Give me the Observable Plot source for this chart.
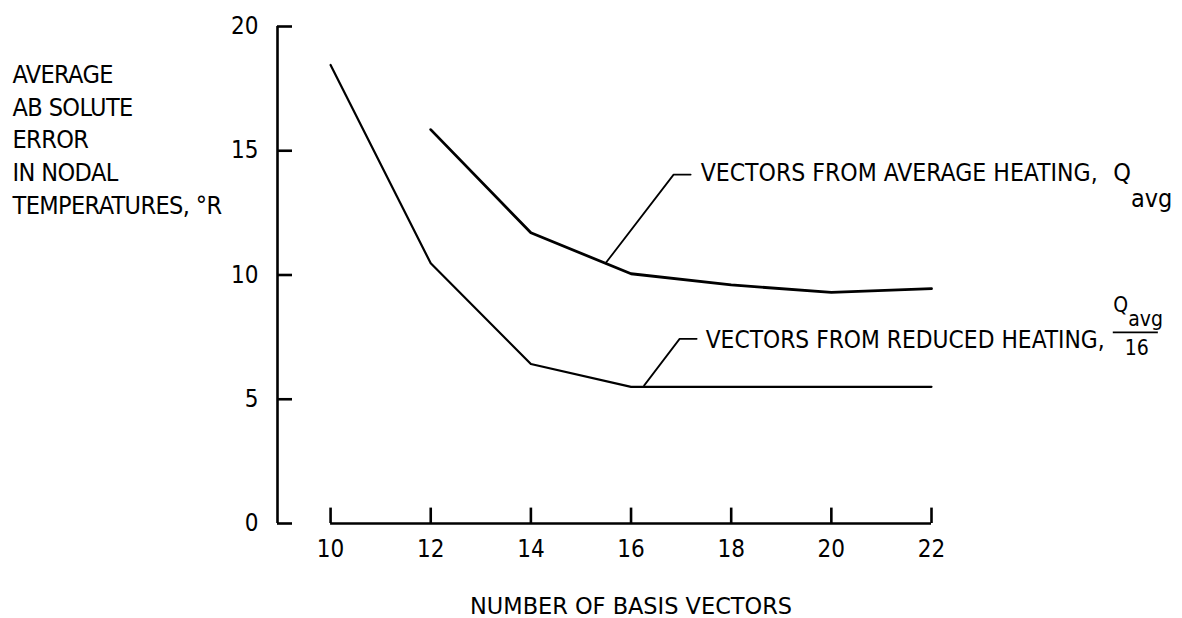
<!DOCTYPE html>
<html><head><meta charset="utf-8">
<script src="https://cdn.jsdelivr.net/npm/d3@7"></script>
<script src="https://cdn.jsdelivr.net/npm/@observablehq/plot@0.6"></script>
<style>
body{margin:0;background:#fff;}
#chart svg{font-family:"Liberation Sans Narrow","DejaVu Sans Condensed","Liberation Sans",sans-serif;}
</style></head><body><div id="chart"></div>
<script>
// ---- data ----
const basisVectors = [10, 12, 14, 16, 18, 20, 22];
const reducedHeatingError = [18.45, 10.47, 6.42, 5.5, 5.5, 5.5, 5.5];
const avgBasisVectors = [12, 14, 16, 18, 20, 22];
const averageHeatingError = [15.85, 11.7, 10.05, 9.6, 9.3, 9.45];
const xTicks = [10, 12, 14, 16, 18, 20, 22];
const yTicks = [0, 5, 10, 15, 20];
const yLabelLines = ["AVERAGE", "AB SOLUTE", "ERROR", "IN NODAL", "TEMPERATURES, °R"];
const xLabel = "NUMBER OF BASIS VECTORS";
const upperLabel = "VECTORS FROM AVERAGE HEATING,";
const lowerLabel = "VECTORS FROM REDUCED HEATING,";
// annotation leader lines & label anchors (data coordinates)
const upperLeaderX = [15.49, 16.85, 17.19];
const upperLeaderY = [10.47, 14.04, 14.04];
const lowerLeaderX = [16.26, 16.97, 17.31];
const lowerLeaderY = [5.55, 7.43, 7.43];
const upperLabelPos = [17.39, 14.1];
const upperQPos = [25.63, 14.1];
const lowerLabelPos = [17.49, 7.4];
const fracNumPos = [25.63, 8.8];
const fracDenPos = [26.1, 7.05];
const fracBarX = [25.63, 26.53];
const fracBarY = 7.69;

const xMin = 8.94;
const lowerData = basisVectors.map((x, i) => ({x, y: reducedHeatingError[i]}));
const upperData = avgBasisVectors.map((x, i) => ({x, y: averageHeatingError[i]}));
const upperLeader = upperLeaderX.map((x, i) => ({x, y: upperLeaderY[i]}));
const lowerLeader = lowerLeaderX.map((x, i) => ({x, y: lowerLeaderY[i]}));
const titleX = (xTicks[0] + xTicks[xTicks.length - 1]) / 2;

const chart = Plot.plot({
  width: 1182, height: 618,
  marginLeft: 277, marginRight: 251, marginTop: 26, marginBottom: 95,
  x: {domain: [xMin, 22]},
  y: {domain: [0, 20]},
  style: {background: "#fff", color: "#000", fontSize: "24px"},
  marks: [
    Plot.axisY(yTicks, {tickSize: 0, tickPadding: 19, fontSize: 24, label: null}),
    Plot.axisX(xTicks, {tickSize: 0, tickPadding: 16, fontSize: 24, label: null}),
    Plot.ruleX([xMin], {y1: 0, y2: 20, strokeWidth: 2.6}),
    Plot.ruleY(yTicks, {x1: xMin, x2: xMin + 0.3, strokeWidth: 2.6}),
    Plot.ruleY([0], {x1: xTicks[0], x2: xTicks[xTicks.length - 1], strokeWidth: 2.6}),
    Plot.ruleX(xTicks, {y1: 0, y2: 0.62, strokeWidth: 2.6}),
    Plot.line(lowerData, {x: "x", y: "y", strokeWidth: 2.2}),
    Plot.line(upperData, {x: "x", y: "y", strokeWidth: 2.8}),
    Plot.line(upperLeader, {x: "x", y: "y", strokeWidth: 1.8}),
    Plot.line(lowerLeader, {x: "x", y: "y", strokeWidth: 1.8}),
    Plot.text([upperLabel], {x: [upperLabelPos[0]], y: [upperLabelPos[1]], textAnchor: "start", fontSize: 25}),
    Plot.text(["Q"], {x: [upperQPos[0]], y: [upperQPos[1]], textAnchor: "start", fontSize: 25}),
    Plot.text([lowerLabel], {x: [lowerLabelPos[0]], y: [lowerLabelPos[1]], textAnchor: "start", fontSize: 25}),
    Plot.text(["Q"], {x: [fracNumPos[0]], y: [fracNumPos[1]], textAnchor: "start", fontSize: 21}),
    Plot.text(["16"], {x: [fracDenPos[0]], y: [fracDenPos[1]], fontSize: 21}),
    Plot.ruleY([fracBarY], {x1: fracBarX[0], x2: fracBarX[1], strokeWidth: 1.6}),
    Plot.text([xLabel], {x: [titleX], frameAnchor: "bottom", lineAnchor: "top", dy: 74, fontSize: 23}),
    Plot.text([yLabelLines.join("\n")], {frameAnchor: "top-left", textAnchor: "start", lineAnchor: "top", dx: -265, dy: 33, lineHeight: 1.31, fontSize: 25})
  ]
});
document.getElementById("chart").appendChild(chart);

const svg = d3.select(chart);
let qCount = 0;
svg.selectAll("text").each(function() {
  const t = this.textContent;
  const s = d3.select(this);
  if (t === upperLabel) {
    s.attr("textLength", 397).attr("lengthAdjust", "spacingAndGlyphs");
  } else if (t === lowerLabel) {
    s.attr("textLength", 399).attr("lengthAdjust", "spacingAndGlyphs");
  } else if (t === "Q") {
    if (qCount === 0) s.append("tspan").attr("dy", "26px").attr("font-size", "25px").text("avg");
    else s.append("tspan").attr("dy", "14px").attr("font-size", "21px").text("avg");
    qCount++;
  } else if (t === xLabel) {
    s.attr("textLength", 322).attr("lengthAdjust", "spacingAndGlyphs");
  } else if (t.startsWith("AVERAGE")) {
    s.style("letter-spacing", "-0.6px");
  }
});
</script></body></html>
